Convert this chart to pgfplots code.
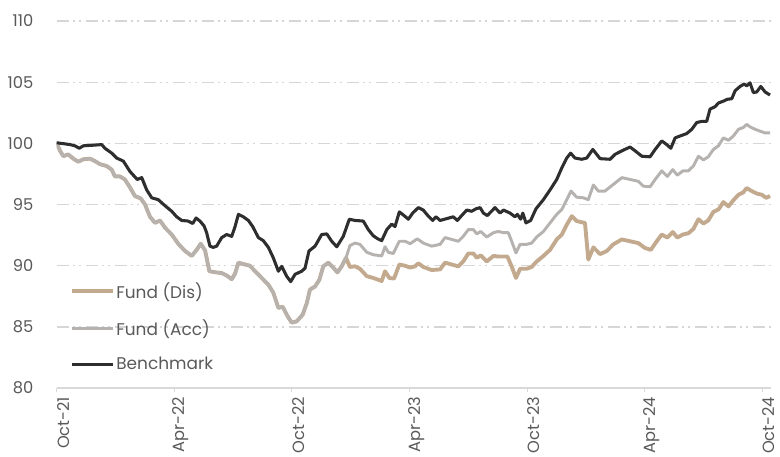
\documentclass[border=0pt]{standalone}
\usepackage{pgfplots}
\pgfplotsset{compat=1.18}
\usepackage{pgfplotstable}
\usepackage{fontspec}
\setmainfont{Poppins}
\definecolor{dis}{HTML}{C3AA8F}
\definecolor{acc}{HTML}{B5B2B0}
\definecolor{bench}{HTML}{2E2E2E}
\definecolor{txt}{HTML}{595959}
\definecolor{gridc}{HTML}{D6D6D6}
\definecolor{axc}{HTML}{D9D9D9}

\pgfplotstableread{
x y
0 100.05
0.68 99.9
0.93 99.8
1.15 99.6
1.36 99.8
1.87 99.85
2.30 99.9
2.46 99.6
2.81 99.2
3.06 98.8
3.40 98.55
3.74 97.7
4.11 97.05
4.34 97.2
4.59 96.2
4.85 95.55
5.18 95.4
5.53 94.9
5.87 94.45
6.12 94.0
6.38 93.7
6.71 93.65
6.94 93.45
7.11 93.9
7.31 93.65
7.52 93.25
7.65 92.7
7.82 91.6
7.99 91.5
8.16 91.6
8.42 92.3
8.67 92.55
8.93 92.4
9.10 93.2
9.27 94.2
9.52 94.0
9.78 93.7
10.00 93.2
10.29 92.3
10.54 92.05
10.80 91.5
11.05 90.65
11.31 89.55
11.48 89.95
11.73 89.15
11.94 88.7
12.16 89.3
12.50 89.55
12.67 89.8
12.87 91.2
13.18 91.6
13.52 92.55
13.78 92.6
14.03 92.0
14.29 91.55
14.62 92.4
14.93 93.8
15.22 93.7
15.64 93.65
15.90 92.95
16.15 92.45
16.38 92.2
16.58 92.05
16.84 92.95
17.09 93.4
17.26 93.2
17.48 94.4
17.72 94.1
17.94 93.8
18.16 94.3
18.45 94.75
18.70 94.55
18.96 94.05
19.18 93.7
19.35 94.0
19.56 93.7
19.90 93.85
20.23 94.0
20.44 93.7
20.66 94.1
20.92 94.55
21.17 94.45
21.39 94.65
21.60 94.75
21.77 94.3
21.97 94.1
22.36 94.75
22.62 94.3
22.79 94.55
23.13 94.3
23.38 94.0
23.50 94.2
23.67 93.8
23.78 94.3
23.94 93.5
24.18 93.7
24.45 94.65
24.83 95.4
25.17 96.2
25.51 97.05
25.77 98.0
26.02 98.8
26.22 99.2
26.44 98.8
26.79 98.7
27.04 98.8
27.35 99.5
27.55 99.1
27.72 98.75
28.23 98.7
28.48 99.1
28.91 99.45
29.25 99.7
29.50 99.4
29.85 98.95
30.27 98.9
30.53 99.5
30.87 100.2
31.12 99.9
31.33 99.6
31.55 100.45
31.80 100.6
32.14 100.8
32.40 101.15
32.65 101.7
32.91 101.8
33.16 101.8
33.33 102.8
33.59 103.0
33.76 103.3
34.01 103.45
34.21 103.6
34.44 103.65
34.61 104.3
34.86 104.65
35.07 104.85
35.20 104.7
35.37 104.95
35.54 104.15
35.71 104.2
35.92 104.65
36.14 104.2
36.39 103.95
}\bench

\pgfplotstableread{
x y
0 100.05
0.17 99.4
0.34 98.95
0.59 99.1
0.85 98.75
1.10 98.5
1.36 98.7
1.70 98.75
1.95 98.55
2.21 98.3
2.55 98.15
2.81 97.85
2.97 97.3
3.23 97.3
3.48 97.05
3.74 96.4
3.99 95.7
4.29 95.5
4.51 95.0
4.76 94.0
5.02 93.5
5.27 93.7
5.53 93.1
5.87 92.55
6.20 91.8
6.55 91.2
6.89 90.8
7.14 91.3
7.35 91.8
7.57 91.25
7.79 89.55
8.16 89.45
8.42 89.4
8.67 89.2
8.93 88.9
9.10 89.35
9.27 90.25
9.61 90.1
9.86 90.0
10.12 89.55
10.46 89.0
10.80 88.45
11.05 87.8
11.31 86.55
11.53 86.65
11.77 85.9
11.99 85.35
12.24 85.45
12.55 86.0
12.76 86.95
12.92 88.05
13.18 88.3
13.40 88.85
13.60 89.95
13.86 90.25
14.11 89.85
14.32 89.45
14.54 89.95
14.76 90.65
14.96 89.9
15.22 89.95
15.47 89.75
15.82 89.15
16.15 89.0
16.58 88.75
16.75 89.55
16.97 89.0
17.21 88.95
17.48 90.1
17.77 90.0
18.03 89.85
18.28 89.95
18.45 90.2
18.70 89.9
19.13 89.65
19.56 89.7
19.81 90.25
20.15 90.1
20.49 89.95
20.74 90.35
21.00 91.0
21.26 91.0
21.43 90.65
21.63 90.85
21.94 90.35
22.28 90.8
22.53 90.75
22.99 90.75
23.21 89.95
23.43 89.0
23.64 89.75
23.98 89.75
24.23 89.9
24.49 90.35
24.83 90.8
25.17 91.3
25.51 92.15
25.77 92.55
26.02 93.35
26.28 94.05
26.53 93.65
26.79 93.55
26.95 93.5
27.12 90.5
27.38 91.5
27.72 90.95
28.06 91.2
28.40 91.75
28.83 92.15
29.25 92.0
29.67 91.85
30.01 91.45
30.31 91.3
30.61 92.0
30.87 92.55
31.15 92.3
31.43 92.75
31.66 92.3
31.94 92.55
32.22 92.65
32.48 93.0
32.74 93.8
32.99 93.45
33.24 93.7
33.50 94.4
33.76 94.6
34.01 95.2
34.27 94.85
34.52 95.35
34.78 95.8
35.03 96.0
35.20 96.35
35.46 96.1
35.71 95.9
35.97 95.8
36.19 95.55
36.39 95.7
}\dis

\pgfplotstableread{
x y
0 100.05
0.17 99.4
0.34 98.95
0.59 99.1
0.85 98.75
1.10 98.5
1.36 98.7
1.70 98.75
1.95 98.55
2.21 98.3
2.55 98.15
2.81 97.85
2.97 97.3
3.23 97.3
3.48 97.05
3.74 96.4
3.99 95.7
4.29 95.5
4.51 95.0
4.76 94.0
5.02 93.5
5.27 93.7
5.53 93.1
5.87 92.55
6.20 91.8
6.55 91.2
6.89 90.8
7.14 91.3
7.35 91.8
7.57 91.25
7.79 89.55
8.16 89.45
8.42 89.4
8.67 89.2
8.93 88.9
9.10 89.35
9.27 90.25
9.61 90.1
9.86 90.0
10.12 89.55
10.46 89.0
10.80 88.45
11.05 87.8
11.31 86.55
11.53 86.65
11.77 85.9
11.99 85.35
12.24 85.45
12.55 86.0
12.76 86.95
12.92 88.05
13.18 88.3
13.40 88.85
13.60 89.95
13.86 90.25
14.11 89.85
14.32 89.45
14.54 89.95
14.76 90.65
14.96 91.65
15.22 91.85
15.47 91.75
15.82 91.1
16.15 90.9
16.58 90.8
16.75 91.55
16.92 91.1
17.17 91.0
17.48 92.0
17.77 92.0
18.03 91.8
18.40 92.2
18.70 91.85
19.13 91.6
19.56 91.75
19.81 92.3
20.15 92.15
20.49 92.0
20.74 92.4
21.00 92.95
21.26 92.95
21.43 92.6
21.63 92.8
21.94 92.35
22.28 92.7
22.53 92.8
22.79 92.7
23.04 92.7
23.21 92.0
23.43 91.05
23.64 91.75
23.98 91.75
24.23 91.85
24.49 92.35
24.83 92.8
25.17 93.5
25.51 94.2
25.77 94.6
26.02 95.4
26.24 96.1
26.53 95.6
26.87 95.55
27.12 95.4
27.38 96.6
27.63 96.1
27.97 96.1
28.40 96.65
28.83 97.2
29.25 97.05
29.67 96.9
29.93 96.5
30.27 96.45
30.53 97.05
30.87 97.75
31.15 97.3
31.43 97.85
31.66 97.4
31.94 97.75
32.22 97.75
32.48 98.15
32.74 98.95
32.99 98.65
33.24 98.9
33.50 99.5
33.76 99.8
34.01 100.45
34.27 100.25
34.52 100.6
34.78 101.15
35.03 101.3
35.20 101.55
35.37 101.35
35.63 101.15
35.88 101.0
36.14 100.85
36.39 100.85
}\acc

\begin{document}
\begin{tikzpicture}
\begin{axis}[
  name=ax,
  scale only axis,
  width=535.7pt, height=275.3pt,
  xmin=0, xmax=36.44,
  ymin=80, ymax=110,
  ytick={80,85,90,95,100,105,110},
  xtick={0,6,12,18,24,30,36},
  xticklabels={Oct-21,Apr-22,Oct-22,Apr-23,Oct-23,Apr-24,Oct-24},
  axis x line*=bottom,
  axis y line*=left,
  y axis line style={draw=none},
  x axis line style={draw=axc, line width=1.1pt},
  ytick style={draw=none},
  xtick style={draw=axc, line width=0.8pt},
  tick align=outside,
  major tick length=3pt,
  ymajorgrids,
  grid style={draw=gridc, line width=1pt, dash pattern=on 9pt off 3pt on 1.5pt off 3pt on 1.5pt off 3.75pt},
  /pgf/number format/assume math mode=true,
  tick label style={font=\fontsize{12.2}{14}\selectfont, text=txt},
  yticklabel style={xshift=-11pt},
  xticklabel style={rotate=90, anchor=east, yshift=-5pt},
  legend style={at={(rel axis cs:0.018,0.292)}, anchor=north west, draw=none, fill=none,
    inner sep=0pt, row sep=12.5pt, font=\fontsize{12.7}{15}\selectfont, text=txt,
    cells={anchor=west}, nodes={inner sep=1pt}},
  legend image code/.code={\draw[#1] (0pt,0pt) -- (31pt,0pt);},
  line join=round,
]
\addplot[dis, line width=2.9pt] table[x=x,y=y] {\dis};
\addlegendentry{Fund (Dis)}
\addplot[acc, line width=2.2pt] table[x=x,y=y] {\acc};
\addlegendentry{Fund (Acc)}
\addplot[bench, line width=2.3pt] table[x=x,y=y] {\bench};
\addlegendentry{Benchmark}
\end{axis}
\pgfresetboundingbox
\path[use as bounding box] ([shift={(-42.5pt,-51pt)}]ax.south west) rectangle ([shift={(6.75pt,15.75pt)}]ax.north east);
\end{tikzpicture}
\end{document}
